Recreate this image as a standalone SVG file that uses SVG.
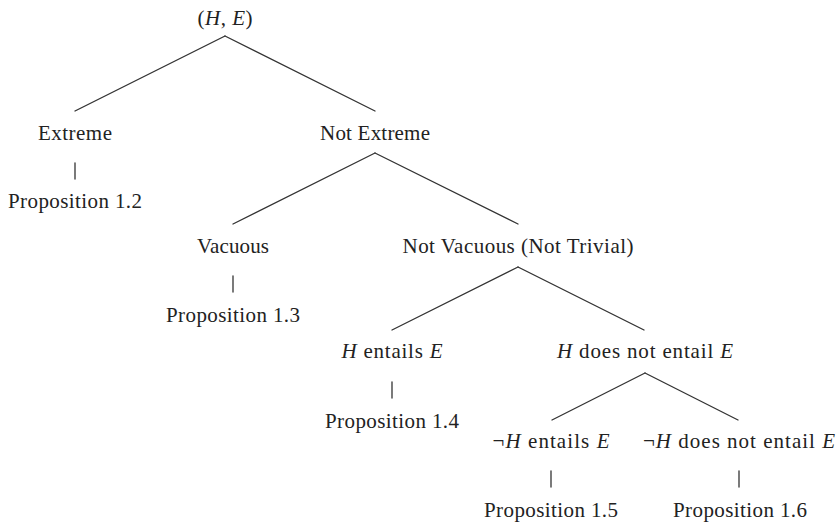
<svg xmlns="http://www.w3.org/2000/svg" width="837" height="525" viewBox="0 0 837 525">
<style>
  text { font-family: "Liberation Serif", "Times New Roman", serif; font-size: 21px; fill: #222; text-anchor: middle; }
  .i { font-style: italic; }
  .edge { stroke: #333; stroke-width: 1.3; fill: none; stroke-linecap: round; }
</style>
<rect width="837" height="525" fill="#fff"/>
<g id="connectors">
  <line class="edge" x1="225" y1="36" x2="75" y2="111"/>
  <line class="edge" x1="225" y1="36" x2="375" y2="111"/>
  <line class="edge" x1="375" y1="153" x2="233" y2="224"/>
  <line class="edge" x1="375" y1="153" x2="518" y2="224"/>
  <line class="edge" x1="518" y1="267" x2="392" y2="330"/>
  <line class="edge" x1="518" y1="267" x2="644" y2="330"/>
  <line class="edge" x1="645" y1="373" x2="552" y2="420"/>
  <line class="edge" x1="645" y1="373" x2="738" y2="420"/>
  <line class="edge" x1="75" y1="163" x2="75" y2="179"/>
  <line class="edge" x1="233" y1="276" x2="233" y2="292"/>
  <line class="edge" x1="392" y1="382" x2="392" y2="398"/>
  <line class="edge" x1="551" y1="471" x2="551" y2="487"/>
  <line class="edge" x1="739" y1="471" x2="739" y2="487"/>
</g>
<g id="root"><text x="225" y="25" textLength="55" lengthAdjust="spacing">(<tspan class="i">H</tspan>, <tspan class="i">E</tspan>)</text></g>
<g id="extreme"><text x="75" y="140" textLength="74" lengthAdjust="spacing">Extreme</text></g>
<g id="prop12"><text x="75" y="208" textLength="134" lengthAdjust="spacing">Proposition 1.2</text></g>
<g id="notextreme"><text x="375" y="140" textLength="110" lengthAdjust="spacing">Not Extreme</text></g>
<g id="vacuous"><text x="233" y="253" textLength="72" lengthAdjust="spacing">Vacuous</text></g>
<g id="prop13"><text x="233" y="322" textLength="134" lengthAdjust="spacing">Proposition 1.3</text></g>
<g id="notvacuous"><text x="518" y="253" textLength="231" lengthAdjust="spacing">Not Vacuous (Not Trivial)</text></g>
<g id="hentails"><text x="392" y="358" textLength="101" lengthAdjust="spacing"><tspan class="i">H</tspan> entails <tspan class="i">E</tspan></text></g>
<g id="prop14"><text x="392" y="428" textLength="134" lengthAdjust="spacing">Proposition 1.4</text></g>
<g id="hnotentail"><text x="645" y="358" textLength="176" lengthAdjust="spacing"><tspan class="i">H</tspan> does not entail <tspan class="i">E</tspan></text></g>
<g id="nothentails"><text x="551" y="448" textLength="117" lengthAdjust="spacing">¬<tspan class="i">H</tspan> entails <tspan class="i">E</tspan></text></g>
<g id="prop15"><text x="551" y="517" textLength="134" lengthAdjust="spacing">Proposition 1.5</text></g>
<g id="nothnotentail"><text x="739" y="448" textLength="192" lengthAdjust="spacing">¬<tspan class="i">H</tspan> does not entail <tspan class="i">E</tspan></text></g>
<g id="prop16"><text x="740" y="517" textLength="134" lengthAdjust="spacing">Proposition 1.6</text></g>
</svg>
